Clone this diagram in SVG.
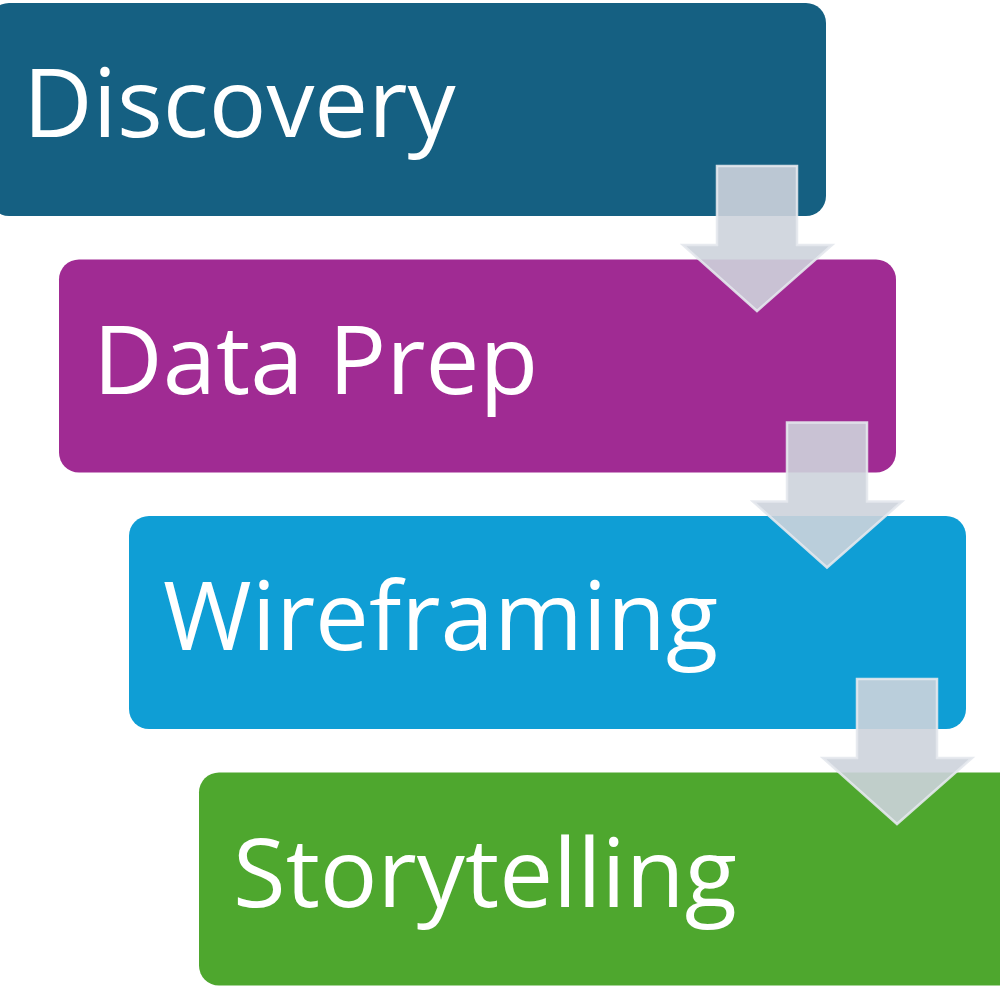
<svg xmlns="http://www.w3.org/2000/svg" width="1000" height="1000" viewBox="0 0 1000 1000">
<style>
.box{stroke:none}
.lbl{font-family:"Open Sans","Noto Sans",sans-serif;font-size:96px;fill:#FFFFFF}
.arr{fill:#CDD3DB;fill-opacity:0.9;stroke:#E4E8ED;stroke-opacity:0.9;stroke-width:2.5;stroke-linejoin:miter}
</style>
<rect width="1000" height="1000" fill="#FFFFFF"/>
<g id="node-discovery">
<rect class="box" x="-11" y="3" width="837" height="213" rx="20" fill="#156082"/>
<text class="lbl" x="23" y="137">Discovery</text>
</g>
<g id="node-dataprep">
<rect class="box" x="59" y="259.5" width="837" height="213" rx="20" fill="#A02B93"/>
<text class="lbl" x="93" y="393.5">Data Prep</text>
</g>
<g id="node-wireframing">
<rect class="box" x="129" y="516" width="837" height="213" rx="20" fill="#0F9ED5"/>
<text class="lbl" x="163" y="650">Wireframing</text>
</g>
<g id="node-storytelling">
<rect class="box" x="199" y="772.5" width="837" height="213" rx="20" fill="#4EA72E"/>
<text class="lbl" x="233" y="906.5">Storytelling</text>
</g>
<g id="connectors">
<polygon class="arr" points="717,166 797,166 797,245 832,245 757,311 683,245 717,245"/>
<polygon class="arr" points="787,422.5 867,422.5 867,501.5 902,501.5 827,567.5 753,501.5 787,501.5"/>
<polygon class="arr" points="857,679 937,679 937,758 972,758 897,824 823,758 857,758"/>
</g>
</svg>
